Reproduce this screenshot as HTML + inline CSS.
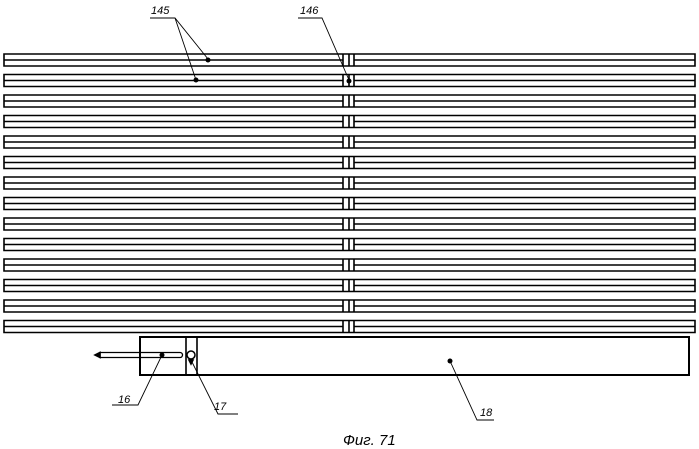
<!DOCTYPE html>
<html><head><meta charset="utf-8"><style>body{margin:0;background:#fff}svg{display:block}</style></head>
<body>
<svg width="699" height="449" viewBox="0 0 699 449" xmlns="http://www.w3.org/2000/svg" font-family="Liberation Sans, sans-serif">
<g stroke="#000" fill="none">
<g id="bars" stroke-width="1.6">
<!-- bars generated -->
</g>
</g>
<g stroke="#000" fill="none" stroke-width="1.6">
<path d="M4 54.0H695V66.0H4Z M4 60.0H343 M354 60.0H695 M343 54.0V66.0 M349 54.0V66.0 M354 54.0V66.0"/>
<path d="M4 74.5H695V86.5H4Z M4 80.5H343 M354 80.5H695 M343 74.5V86.5 M349 74.5V86.5 M354 74.5V86.5"/>
<path d="M4 95.0H695V107.0H4Z M4 101.0H343 M354 101.0H695 M343 95.0V107.0 M349 95.0V107.0 M354 95.0V107.0"/>
<path d="M4 115.5H695V127.5H4Z M4 121.5H343 M354 121.5H695 M343 115.5V127.5 M349 115.5V127.5 M354 115.5V127.5"/>
<path d="M4 136.0H695V148.0H4Z M4 142.0H343 M354 142.0H695 M343 136.0V148.0 M349 136.0V148.0 M354 136.0V148.0"/>
<path d="M4 156.5H695V168.5H4Z M4 162.5H343 M354 162.5H695 M343 156.5V168.5 M349 156.5V168.5 M354 156.5V168.5"/>
<path d="M4 177.0H695V189.0H4Z M4 183.0H343 M354 183.0H695 M343 177.0V189.0 M349 177.0V189.0 M354 177.0V189.0"/>
<path d="M4 197.5H695V209.5H4Z M4 203.5H343 M354 203.5H695 M343 197.5V209.5 M349 197.5V209.5 M354 197.5V209.5"/>
<path d="M4 218.0H695V230.0H4Z M4 224.0H343 M354 224.0H695 M343 218.0V230.0 M349 218.0V230.0 M354 218.0V230.0"/>
<path d="M4 238.5H695V250.5H4Z M4 244.5H343 M354 244.5H695 M343 238.5V250.5 M349 238.5V250.5 M354 238.5V250.5"/>
<path d="M4 259.0H695V271.0H4Z M4 265.0H343 M354 265.0H695 M343 259.0V271.0 M349 259.0V271.0 M354 259.0V271.0"/>
<path d="M4 279.5H695V291.5H4Z M4 285.5H343 M354 285.5H695 M343 279.5V291.5 M349 279.5V291.5 M354 279.5V291.5"/>
<path d="M4 300.0H695V312.0H4Z M4 306.0H343 M354 306.0H695 M343 300.0V312.0 M349 300.0V312.0 M354 300.0V312.0"/>
<path d="M4 320.5H695V332.5H4Z M4 326.5H343 M354 326.5H695 M343 320.5V332.5 M349 320.5V332.5 M354 320.5V332.5"/>
<!-- box 18 -->
<rect x="140" y="337" width="549" height="38" stroke-width="2"/>
<path d="M186 337V375 M197 337V375" />
<!-- rod -->
<path d="M100 352.5H180a2.5 2.5 0 0 1 0 5H100Z" stroke-width="1.3"/>
<path d="M100 352.5 L95 355 L100 357.5Z" fill="#000"/>
<circle cx="191" cy="355" r="4" stroke-width="1.5"/>
<path d="M189 360 L193 360 L191 364Z" fill="#000"/>
</g>
<g stroke="#000" stroke-width="0.9" fill="none">
<path d="M150 18H175 L208 59 M175 18 L196 80"/>
<path d="M298 18H322 L349 80"/>
<path d="M162 355 L138 405 H112"/>
<path d="M191 360 L218 414 H238"/>
<path d="M450 361 L477 420 H494"/>
</g>
<g fill="#000">
<circle cx="208" cy="60" r="2.5"/><circle cx="196" cy="80" r="2.5"/><circle cx="349" cy="81" r="2.5"/>
<circle cx="162" cy="355" r="2.5"/><circle cx="450" cy="361" r="2.5"/>
</g>
<g font-style="italic" font-size="11" fill="#000">
<text x="151" y="14">145</text>
<text x="300" y="14">146</text>
<text x="118" y="403">16</text>
<text x="214" y="410">17</text>
<text x="480" y="416">18</text>
<text x="343" y="445" font-size="15">Фиг. 71</text>
</g>
</svg>
</body></html>
